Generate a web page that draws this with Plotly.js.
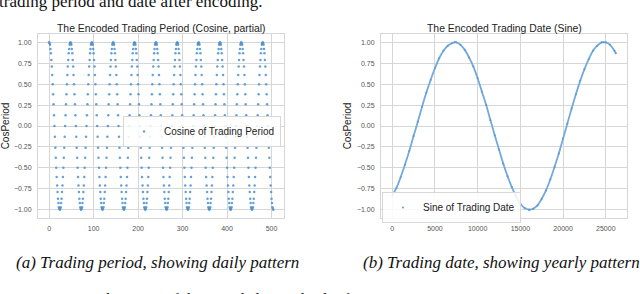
<!DOCTYPE html>
<html>
<head>
<meta charset="utf-8">
<script src="https://cdn.plot.ly/plotly-3.0.1.min.js"></script>
<style>html,body{margin:0;padding:0;background:#fff;}#chart{width:640px;height:294px;}</style>
</head>
<body>
<div id="chart"></div>
<script>
// ---- Data: (a) cosine of trading period ----
const periodCos = [
1,0.99,0.97,0.92,0.87,0.79,0.71,0.61,0.5,0.38,0.26,0.13,0,-0.13,-0.26,-0.38,-0.5,-0.61,-0.71,-0.79,-0.87,-0.92,-0.97,-0.99,-1,-0.99,-0.97,-0.92,-0.87,-0.79,-0.71,-0.61,-0.5,-0.38,-0.26,-0.13,0,0.13,0.26,0.38,0.5,0.61,0.71,0.79,0.87,0.92,0.97,0.99,
1,0.99,0.97,0.92,0.87,0.79,0.71,0.61,0.5,0.38,0.26,0.13,0,-0.13,-0.26,-0.38,-0.5,-0.61,-0.71,-0.79,-0.87,-0.92,-0.97,-0.99,-1,-0.99,-0.97,-0.92,-0.87,-0.79,-0.71,-0.61,-0.5,-0.38,-0.26,-0.13,0,0.13,0.26,0.38,0.5,0.61,0.71,0.79,0.87,0.92,0.97,0.99,
1,0.99,0.97,0.92,0.87,0.79,0.71,0.61,0.5,0.38,0.26,0.13,0,-0.13,-0.26,-0.38,-0.5,-0.61,-0.71,-0.79,-0.87,-0.92,-0.97,-0.99,-1,-0.99,-0.97,-0.92,-0.87,-0.79,-0.71,-0.61,-0.5,-0.38,-0.26,-0.13,0,0.13,0.26,0.38,0.5,0.61,0.71,0.79,0.87,0.92,0.97,0.99,
1,0.99,0.97,0.92,0.87,0.79,0.71,0.61,0.5,0.38,0.26,0.13,0,-0.13,-0.26,-0.38,-0.5,-0.61,-0.71,-0.79,-0.87,-0.92,-0.97,-0.99,-1,-0.99,-0.97,-0.92,-0.87,-0.79,-0.71,-0.61,-0.5,-0.38,-0.26,-0.13,0,0.13,0.26,0.38,0.5,0.61,0.71,0.79,0.87,0.92,0.97,0.99,
1,0.99,0.97,0.92,0.87,0.79,0.71,0.61,0.5,0.38,0.26,0.13,0,-0.13,-0.26,-0.38,-0.5,-0.61,-0.71,-0.79,-0.87,-0.92,-0.97,-0.99,-1,-0.99,-0.97,-0.92,-0.87,-0.79,-0.71,-0.61,-0.5,-0.38,-0.26,-0.13,0,0.13,0.26,0.38,0.5,0.61,0.71,0.79,0.87,0.92,0.97,0.99,
1,0.99,0.97,0.92,0.87,0.79,0.71,0.61,0.5,0.38,0.26,0.13,0,-0.13,-0.26,-0.38,-0.5,-0.61,-0.71,-0.79,-0.87,-0.92,-0.97,-0.99,-1,-0.99,-0.97,-0.92,-0.87,-0.79,-0.71,-0.61,-0.5,-0.38,-0.26,-0.13,0,0.13,0.26,0.38,0.5,0.61,0.71,0.79,0.87,0.92,0.97,0.99,
1,0.99,0.97,0.92,0.87,0.79,0.71,0.61,0.5,0.38,0.26,0.13,0,-0.13,-0.26,-0.38,-0.5,-0.61,-0.71,-0.79,-0.87,-0.92,-0.97,-0.99,-1,-0.99,-0.97,-0.92,-0.87,-0.79,-0.71,-0.61,-0.5,-0.38,-0.26,-0.13,0,0.13,0.26,0.38,0.5,0.61,0.71,0.79,0.87,0.92,0.97,0.99,
1,0.99,0.97,0.92,0.87,0.79,0.71,0.61,0.5,0.38,0.26,0.13,0,-0.13,-0.26,-0.38,-0.5,-0.61,-0.71,-0.79,-0.87,-0.92,-0.97,-0.99,-1,-0.99,-0.97,-0.92,-0.87,-0.79,-0.71,-0.61,-0.5,-0.38,-0.26,-0.13,0,0.13,0.26,0.38,0.5,0.61,0.71,0.79,0.87,0.92,0.97,0.99,
1,0.99,0.97,0.92,0.87,0.79,0.71,0.61,0.5,0.38,0.26,0.13,0,-0.13,-0.26,-0.38,-0.5,-0.61,-0.71,-0.79,-0.87,-0.92,-0.97,-0.99,-1,-0.99,-0.97,-0.92,-0.87,-0.79,-0.71,-0.61,-0.5,-0.38,-0.26,-0.13,0,0.13,0.26,0.38,0.5,0.61,0.71,0.79,0.87,0.92,0.97,0.99,
1,0.99,0.97,0.92,0.87,0.79,0.71,0.61,0.5,0.38,0.26,0.13,0,-0.13,-0.26,-0.38,-0.5,-0.61,-0.71,-0.79,-0.87,-0.92,-0.97,-0.99,-1,-0.99,-0.97,-0.92,-0.87,-0.79,-0.71,-0.61,-0.5,-0.38,-0.26,-0.13,0,0.13,0.26,0.38,0.5,0.61,0.71,0.79,0.87,0.92,0.97,0.99,
1,0.99,0.97,0.92,0.87,0.79,0.71,0.61,0.5,0.38,0.26,0.13,0,-0.13,-0.26,-0.38,-0.5,-0.61,-0.71,-0.79,-0.87,-0.92,-0.97,-0.99,-1
];
const periodIndex = periodCos.map((_, i) => i);

// ---- Data: (b) sine of trading date ----
const dateIndex = [0,500,1000,1500,2000,2500,3000,3500,4000,4500,5000,5500,6000,6500,7000,7300,
  7500,8000,8500,9000,9500,10000,10500,11000,11500,12000,12500,13000,13500,14000,14500,15000,15500,16000,16090,
  16500,17000,17500,18000,18500,19000,19500,20000,20500,21000,21500,22000,22500,23000,23500,24000,24500,24760,
  25000,25500,26000,26170];
const dateSine = [-0.83,-0.74,-0.61,-0.46,-0.30,-0.12,0.05,0.23,0.40,0.55,0.69,0.81,0.90,0.96,0.99,1.00,
  1.00,0.97,0.91,0.82,0.71,0.57,0.41,0.25,0.07,-0.11,-0.28,-0.45,-0.60,-0.73,-0.84,-0.93,-0.98,-1.00,-1.00,
  -0.99,-0.95,-0.87,-0.77,-0.64,-0.49,-0.33,-0.15,0.03,0.21,0.38,0.54,0.68,0.80,0.90,0.96,1.00,1.00,
  1.00,0.97,0.90,0.87];

// ---- Labels ----
const periodTicks = [0,100,200,300,400,500];
const dateTicks = [0,5000,10000,15000,20000,25000];
const yTicks = [-1,-0.75,-0.5,-0.25,0,0.25,0.5,0.75,1];

const SANS = 'Liberation Sans, Arial, sans-serif';
const SERIF = 'Liberation Serif, Times New Roman, serif';
const GRID = '#d6d6d6';

function xAxis(domain, range, ticks, anchor) {
  return {domain, range, anchor, tickvals: ticks, tickformat: 'd', ticks: '', ticklabelstandoff: 4,
    showgrid: true, gridcolor: GRID, gridwidth: 1, zeroline: false,
    showline: true, linecolor: GRID, linewidth: 1, mirror: true,
    tickfont: {family: SANS, size: 7, color: '#555'}};
}
function yAxis(anchor) {
  return {domain: [1 - 218/294, 1 - 34/294], range: [-1.1, 1.1], anchor,
    tickvals: yTicks, tickformat: '.2f', ticks: '', ticklabelstandoff: 4,
    showgrid: true, gridcolor: GRID, gridwidth: 1, zeroline: false,
    showline: true, linecolor: GRID, linewidth: 1, mirror: true,
    tickfont: {family: SANS, size: 7, color: '#555'},
    title: {text: 'CosPeriod', font: {family: SANS, size: 10, color: '#222'}, standoff: 3}};
}

const traces = [
  {type: 'scatter', mode: 'markers', x: periodIndex, y: periodCos, xaxis: 'x', yaxis: 'y',
   name: 'Cosine of Trading Period', legend: 'legend',
   marker: {size: 2.5, color: '#4a90d2', opacity: 0.85}},
  {type: 'scatter', mode: 'lines', x: dateIndex, y: dateSine, xaxis: 'x2', yaxis: 'y2',
   showlegend: false, hoverinfo: 'skip',
   line: {color: '#74aadb', width: 1.8, shape: 'spline'}},
  {type: 'scatter', mode: 'markers', x: dateIndex, y: dateSine, xaxis: 'x2', yaxis: 'y2',
   name: 'Sine of Trading Date', legend: 'legend2',
   marker: {size: 2, color: '#5b9bd5'}}
];

const legendBase = {bgcolor: 'rgba(255,255,255,0.85)', bordercolor: '#d8d8d8', borderwidth: 1,
  font: {family: SANS, size: 10, color: '#222'}, xanchor: 'left', yanchor: 'top'};

const layout = {
  width: 640, height: 294,
  margin: {l: 0, r: 0, t: 0, b: 0},
  paper_bgcolor: '#fff', plot_bgcolor: '#fff',
  showlegend: true,
  xaxis: xAxis([38/640, 284/640], [-25, 528], periodTicks, 'y'),
  yaxis: yAxis('x'),
  xaxis2: xAxis([381/640, 627/640], [-1308, 27478], dateTicks, 'y2'),
  yaxis2: yAxis('x2'),
  legend: Object.assign({x: 123/640, y: 1 - 116/294}, legendBase),
  legend2: Object.assign({x: 382/640, y: 1 - 192/294}, legendBase),
  annotations: [
    {text: 'The Encoded Trading Period (Cosine, partial)', xref: 'paper', yref: 'paper',
     x: 161/640, y: 1 - 28/294, xanchor: 'center', yanchor: 'middle', showarrow: false,
     font: {family: SANS, size: 10.4, color: '#222'}},
    {text: 'The Encoded Trading Date (Sine)', xref: 'paper', yref: 'paper',
     x: 504/640, y: 1 - 28/294, xanchor: 'center', yanchor: 'middle', showarrow: false,
     font: {family: SANS, size: 10.4, color: '#222'}},
    {text: '<i>(a) Trading period, showing daily pattern</i>', xref: 'paper', yref: 'paper',
     x: 157.5/640, y: 1 - 262/294, xanchor: 'center', yanchor: 'middle', showarrow: false,
     font: {family: SERIF, size: 17, color: '#111'}},
    {text: '<i>(b) Trading date, showing yearly pattern</i>', xref: 'paper', yref: 'paper',
     x: 501/640, y: 1 - 262/294, xanchor: 'center', yanchor: 'middle', showarrow: false,
     font: {family: SERIF, size: 17, color: '#111'}},
    {text: 'trading period and date after encoding.', xref: 'paper', yref: 'paper',
     x: -3/640, y: 1 - 1.5/294, xanchor: 'left', yanchor: 'middle', showarrow: false,
     font: {family: SERIF, size: 17, color: '#111'}},
    {text: 'Fig. 6. Showcase of the encoded periodical information. By Co', xref: 'paper', yref: 'paper',
     x: 50/640, y: 1 - 300/294, xanchor: 'left', yanchor: 'middle', showarrow: false,
     font: {family: SERIF, size: 16, color: '#111'}}
  ]
};

Plotly.newPlot('chart', traces, layout, {staticPlot: true, displayModeBar: false});
</script>
</body>
</html>
